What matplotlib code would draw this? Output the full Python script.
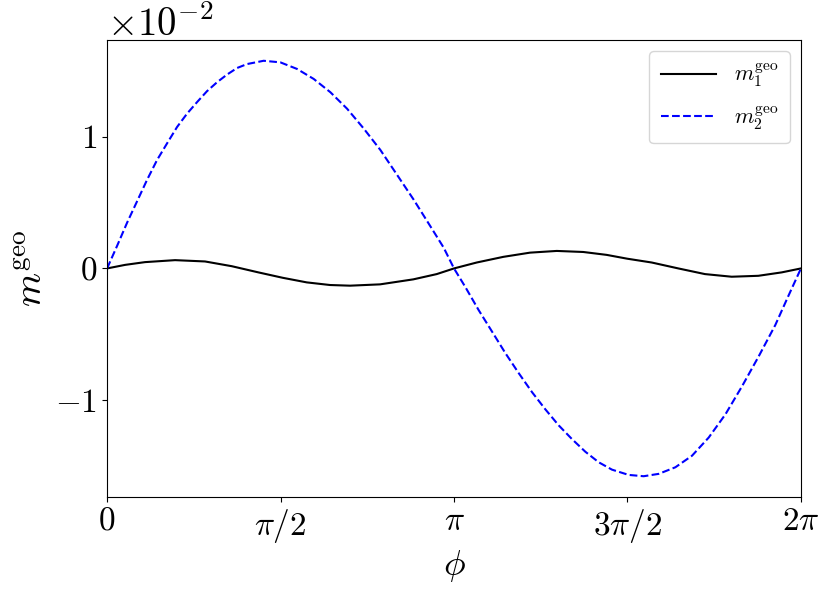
import numpy as np
import matplotlib
matplotlib.use("Agg")
import matplotlib.pyplot as plt

plt.rcParams['mathtext.fontset'] = 'cm'
plt.rcParams['font.family'] = 'serif'
plt.rcParams['font.serif'] = ['cmr10', 'DejaVu Serif']
plt.rcParams['axes.formatter.use_mathtext'] = True
plt.rcParams['axes.unicode_minus'] = True

# values (y in units of 1e-2)
phi_m1 = [0.0, 0.163, 0.344, 0.616, 0.887, 1.129, 1.370, 1.59, 1.808, 2.019,
          2.200, 2.472, 2.773, 2.985, 3.1416, 3.347, 3.588, 3.830, 4.072,
          4.312, 4.524, 4.71, 4.932, 5.173, 5.414, 5.656, 5.897, 6.109, 6.2832]
m1 = [0.0, 0.027, 0.048, 0.063, 0.053, 0.017, -0.030, -0.071, -0.106, -0.126,
      -0.131, -0.121, -0.083, -0.043, 0.0, 0.045, 0.088, 0.120, 0.133,
      0.125, 0.103, 0.074, 0.045, 0.0, -0.043, -0.063, -0.056, -0.030, 0.0]

phi_m2 = [0.0, 0.0905, 0.181, 0.2716, 0.362, 0.4527, 0.543, 0.634, 0.724,
          0.815, 0.905, 0.996, 1.086, 1.177, 1.2675, 1.418, 1.569, 1.720,
          1.871, 2.022, 2.173, 2.324, 2.475, 2.626, 2.776, 2.927, 3.048,
          3.1416, 3.244, 3.365, 3.486, 3.607, 3.727, 3.848, 3.969, 4.089,
          4.210, 4.331, 4.452, 4.572, 4.723, 4.859, 4.995, 5.146, 5.297,
          5.448, 5.599, 5.750, 5.900, 6.051, 6.172, 6.2832]
m2 = [0.0, 0.171, 0.347, 0.510, 0.673, 0.824, 0.950, 1.075, 1.176,
      1.264, 1.347, 1.415, 1.473, 1.523, 1.553, 1.578, 1.566, 1.516,
      1.440, 1.339, 1.214, 1.063, 0.900, 0.711, 0.523, 0.321, 0.158,
      0.0, -0.141, -0.317, -0.480, -0.644, -0.795, -0.940, -1.071, -1.192,
      -1.297, -1.393, -1.473, -1.529, -1.569, -1.579, -1.561, -1.511, -1.423,
      -1.285, -1.109, -0.895, -0.669, -0.430, -0.204, 0.0]

xtick_pos = [0, np.pi / 2, np.pi, 3 * np.pi / 2, 2 * np.pi]
xtick_labels = ['$0$', r'$\pi/2$', r'$\pi$', r'$3\pi/2$', r'$2\pi$']

fig = plt.figure(figsize=(8.3, 5.97), dpi=100)
ax = fig.add_axes([0.129, 0.1675, 0.836, 0.7655])

ax.plot(phi_m1, np.array(m1) * 1e-2, color='black', lw=1.5,
        label=r'$m_1^{\rm geo}$')
ax.plot(phi_m2, np.array(m2) * 1e-2, color='blue', ls='--', lw=1.5,
        label=r'$m_2^{\rm geo}$')

ax.set_xlim(0, 2 * np.pi)
ax.set_xticks(xtick_pos)
ax.set_xticklabels(xtick_labels)
ax.set_yticks([-1e-2, 0, 1e-2])
ax.ticklabel_format(axis='y', style='sci', scilimits=(0, 0))
ax.tick_params(labelsize=24)
ax.yaxis.get_offset_text().set_fontsize(28)

ax.set_xlabel(r'$\phi$', fontsize=26, labelpad=2)
ax.set_ylabel(r'$m^{\rm geo}$', fontsize=28, labelpad=4)

ax.legend(loc='upper right', fontsize=16, handlelength=2.5, labelspacing=0.7,
          borderpad=0.5)

fig.savefig('out.png', dpi=100)
